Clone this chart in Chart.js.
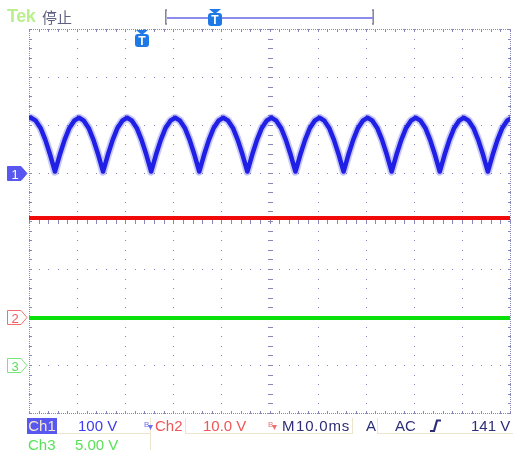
<!DOCTYPE html>
<html>
<head>
<meta charset="utf-8">
<script src="https://cdn.jsdelivr.net/npm/chart.js@4"></script>
<style>
  body { margin: 0; background: #fff; }
  #scope { position: relative; width: 513px; height: 450px; overflow: hidden; font-family: 'Liberation Sans', Arial, sans-serif; }
  #scope canvas { position: absolute; left: 0; top: 0; }
  .txt { position: absolute; font-size: 15px; line-height: 15px; white-space: nowrap; }
  .line { position: absolute; background: #ece4cc; }
  svg { position: absolute; overflow: visible; }
</style>
</head>
<body>
<div id="scope">
  <canvas id="myChart" width="513" height="450"></canvas>
</div>
<script>
// ---- channel settings ----
const msPerDiv = 10
const ch1VoltsPerDiv = 100
const ch2VoltsPerDiv = 10
const ch3VoltsPerDiv = 5
const ch1OffsetDiv = 1   // ground marker 1
const ch2OffsetDiv = -2  // ground marker 2
const ch3OffsetDiv = -3  // ground marker 3

// ---- Ch1: full wave rectified mains, 100 Hz ripple ----
const ch1TimeMs = [
  -50, -49.6, -48.6, -47.6, -46.6, -45.6,
  -44.6, -43.6, -42.6, -41.6, -40.6, -39.6, -38.6, -37.6, -36.6, -35.6,
  -34.6, -33.6, -32.6, -31.6, -30.6, -29.6, -28.6, -27.6, -26.6, -25.6,
  -24.6, -23.6, -22.6, -21.6, -20.6, -19.6, -18.6, -17.6, -16.6, -15.6,
  -14.6, -13.6, -12.6, -11.6, -10.6, -9.6, -8.6, -7.6, -6.6, -5.6,
  -4.6, -3.6, -2.6, -1.6, -0.6, 0.4, 1.4, 2.4, 3.4, 4.4,
  5.4, 6.4, 7.4, 8.4, 9.4, 10.4, 11.4, 12.4, 13.4, 14.4,
  15.4, 16.4, 17.4, 18.4, 19.4, 20.4, 21.4, 22.4, 23.4, 24.4,
  25.4, 26.4, 27.4, 28.4, 29.4, 30.4, 31.4, 32.4, 33.4, 34.4,
  35.4, 36.4, 37.4, 38.4, 39.4, 40.4, 41.4, 42.4, 43.4, 44.4,
  45.4, 46.4, 47.4, 48.4, 49.4, 50.4,
]
const ch1Volts = [
  114, 115, 109, 94, 69, 38,
  3, 38, 69, 94, 109, 115, 109, 94, 69, 38,
  3, 38, 69, 94, 109, 115, 109, 94, 69, 38,
  3, 38, 69, 94, 109, 115, 109, 94, 69, 38,
  3, 38, 69, 94, 109, 115, 109, 94, 69, 38,
  3, 38, 69, 94, 109, 115, 109, 94, 69, 38,
  3, 38, 69, 94, 109, 115, 109, 94, 69, 38,
  3, 38, 69, 94, 109, 115, 109, 94, 69, 38,
  3, 38, 69, 94, 109, 115, 109, 94, 69, 38,
  3, 38, 69, 94, 109, 115, 109, 94, 69, 38,
  3, 38, 69, 94, 109, 115,
]

// ---- Ch2 / Ch3: flat DC traces ----
const ch2TimeMs = [-50, 50]
const ch2Volts = [20.6, 20.6]
const ch3TimeMs = [-50, 50]
const ch3Volts = [4.9, 4.9]

const gridColor = 'rgb(135, 135, 185)'

const toDiv = (times, volts, perDiv, offset) =>
  times.map((t, i) => ({ x: t, y: volts[i] / perDiv + offset }))

const ch1Points = toDiv(ch1TimeMs, ch1Volts, ch1VoltsPerDiv, ch1OffsetDiv)
const ch2Points = toDiv(ch2TimeMs, ch2Volts, ch2VoltsPerDiv, ch2OffsetDiv)
const ch3Points = toDiv(ch3TimeMs, ch3Volts, ch3VoltsPerDiv, ch3OffsetDiv)

// dotted graticule, border ruler and centre-line ticks
const graticule = {
  id: 'graticule',
  beforeDatasetsDraw(chart) {
    const { ctx, chartArea: a, scales: { x, y } } = chart
    const dot = (px, py, w = 1, h = 1) => ctx.fillRect(Math.round(px), Math.round(py), w, h)
    ctx.save()
    ctx.fillStyle = gridColor

    for (let i = 1; i < 10; i++) {
      const px = x.getPixelForValue(x.min + i * msPerDiv)
      for (let j = 0; j <= 40; j++) dot(px, y.getPixelForValue(y.min + j / 5))
    }
    for (let i = 1; i < 8; i++) {
      const py = y.getPixelForValue(y.min + i)
      for (let j = 0; j <= 50; j++) dot(x.getPixelForValue(x.min + j * msPerDiv / 5), py)
    }

    // border: dense dots
    for (let px = a.left; px <= a.right; px += 2) { dot(px, a.top); dot(px, a.bottom) }
    for (let py = a.top; py <= a.bottom; py += 2) { dot(a.left, py); dot(a.right, py) }

    // minor ticks on border and centre lines
    const cx = x.getPixelForValue(0)
    const cy = y.getPixelForValue(0)
    for (let j = 0; j <= 50; j++) {
      const px = x.getPixelForValue(x.min + j * msPerDiv / 5)
      dot(px, a.top, 1, 3)
      dot(px, a.bottom - 2, 1, 3)
      dot(px, cy - 2, 1, 5)
    }
    for (let j = 0; j <= 40; j++) {
      const py = y.getPixelForValue(y.min + j / 5)
      dot(a.left, py, 3, 1)
      dot(a.right - 2, py, 3, 1)
      dot(cx - 2, py, 5, 1)
    }
    ctx.restore()
  },
}

const myScope = new Chart(document.getElementById('myChart'), {
  type: 'line',
  data: {
    datasets: [
      { label: 'Ch1 glow', data: ch1Points, borderColor: 'rgba(70, 70, 240, 0.3)', borderWidth: 8 },
      { label: 'Ch1', data: ch1Points, borderColor: 'rgb(15, 15, 225)', borderWidth: 4.5 },
      { label: 'Ch2', data: ch2Points, borderColor: 'rgb(240, 10, 10)', borderWidth: 4 },
      { label: 'Ch3', data: ch3Points, borderColor: 'rgb(10, 225, 10)', borderWidth: 4 },
    ],
  },
  options: {
    responsive: false,
    animation: false,
    layout: { padding: { left: 29, top: 29, right: 3, bottom: 37 } },
    elements: { point: { radius: 0 }, line: { tension: 0, borderJoinStyle: 'round' } },
    scales: {
      x: { type: 'linear', display: false, min: -5 * msPerDiv, max: 5 * msPerDiv },
      y: { type: 'linear', display: false, min: -4, max: 4 },
    },
    plugins: { legend: { display: false }, tooltip: { enabled: false } },
  },
  plugins: [graticule],
})

// ========================= //
// readouts and markers

const scope = document.getElementById('scope')

const create = (cls, text, style) => {
  const el = document.createElement('div')
  el.className = cls
  if (text) el.textContent = text
  Object.assign(el.style, style)
  scope.append(el)
  return el
}

const svg = (x, y, markup) => {
  scope.insertAdjacentHTML('beforeend',
    `<svg style="left:${x}px;top:${y}px" width="30" height="30">${markup}</svg>`)
}

// readout box lines
create('line', '', { left: '57px', top: '433px', width: '93px', height: '1px' })
create('line', '', { left: '150px', top: '418px', width: '1px', height: '32px' })
create('line', '', { left: '185px', top: '418px', width: '1px', height: '16px' })
create('line', '', { left: '185px', top: '433px', width: '97px', height: '1px' })
create('line', '', { left: '282px', top: '433px', width: '70px', height: '1px' })
create('line', '', { left: '352px', top: '418px', width: '1px', height: '16px' })
create('line', '', { left: '377px', top: '418px', width: '1px', height: '16px' })
create('line', '', { left: '377px', top: '433px', width: '136px', height: '1px' })

create('txt', 'Ch1', { left: '27px', top: '418px', width: '30px', height: '16px', lineHeight: '16px',
  background: 'rgb(88, 88, 240)', color: 'rgb(245, 232, 205)', textAlign: 'center' })
create('txt', '100 V', { left: '78px', top: '418px', color: 'rgb(60, 60, 235)' })
create('txt', 'Ch2', { left: '155px', top: '418px', color: 'rgb(240, 85, 85)' })
create('txt', '10.0 V', { left: '203px', top: '418px', color: 'rgb(240, 85, 85)' })
create('txt', 'M', { left: '282px', top: '418px', color: 'rgb(45, 45, 120)' })
create('txt', '10.0ms', { left: '296px', top: '418px', color: 'rgb(45, 45, 120)', letterSpacing: '0.8px' })
create('txt', 'A', { left: '366px', top: '418px', color: 'rgb(45, 45, 120)' })
create('txt', 'AC', { left: '395px', top: '418px', color: 'rgb(45, 45, 120)' })
create('txt', '141 V', { left: '471px', top: '418px', color: 'rgb(45, 45, 120)' })
create('txt', 'Ch3', { left: '28px', top: '437px', color: 'rgb(90, 225, 90)' })
create('txt', '5.00 V', { left: '75px', top: '437px', color: 'rgb(90, 225, 90)' })

create('txt', 'Tek', { left: '7px', top: '7px', fontSize: '18px', lineHeight: '18px', fontWeight: 'bold',
  color: 'rgb(185, 240, 140)', letterSpacing: '-0.5px' })
create('txt', '停止', { left: '42px', top: '9px', fontFamily: "'Noto Sans CJK SC', sans-serif",
  color: 'rgb(95, 95, 130)' })

// bandwidth limit icons
svg(144, 419, `<text x="0" y="8" font-size="8" font-family="Liberation Sans" fill="rgb(110,110,240)">B</text>
  <path d="M4 6 L9 6 L6.5 11 Z" fill="rgb(110,110,240)"/>`)
svg(268, 419, `<text x="0" y="8" font-size="8" font-family="Liberation Sans" fill="rgb(240,110,110)">B</text>
  <path d="M4 6 L9 6 L6.5 11 Z" fill="rgb(240,110,110)"/>`)

// trigger slope symbol
svg(429, 419, `<path d="M1 12 L5 12 L8 1.5 L12 1.5" fill="none" stroke="rgb(45,45,120)" stroke-width="2.2"/>`)

// horizontal position bar
svg(165, 10, `<path d="M2 0 L0.8 0 L0.8 14 L2 14" fill="none" stroke="rgb(130,130,150)" stroke-width="1.5"/>`)
svg(372, 10, `<path d="M0 0 L1.2 0 L1.2 14 L0 14" fill="none" stroke="rgb(130,130,150)" stroke-width="1.5"/>`)
create('line', '', { left: '167px', top: '17px', width: '206px', height: '2px', background: 'rgb(140, 140, 235)' })

const triggerMark = (x, y) => svg(x, y, `<path d="M1 0 L13 0 L7 5 Z" fill="rgb(30,120,230)"/>
  <rect x="0" y="4" width="14" height="13" rx="3" fill="rgb(30,120,230)"/>
  <text x="7" y="15" text-anchor="middle" font-size="12" font-weight="bold" font-family="Liberation Sans" fill="#fff">T</text>`)
triggerMark(208, 9)
triggerMark(135, 30)

// channel ground markers
const groundMark = (y, n, fill, stroke, textColor) => svg(7, y, `
  <path d="M0.5 0.5 L14 0.5 L20 7.5 L14 14.5 L0.5 14.5 Z" fill="${fill}" stroke="${stroke}" stroke-width="1"/>
  <text x="8" y="12.5" text-anchor="middle" font-size="13" font-family="Liberation Sans" fill="${textColor}">${n}</text>`)
groundMark(166, '1', 'rgb(88,88,240)', 'rgb(88,88,240)', '#fff')
groundMark(310, '2', '#fff', 'rgb(240,110,110)', 'rgb(240,90,90)')
groundMark(358, '3', '#fff', 'rgb(120,230,120)', 'rgb(90,220,90)')
</script>
</body>
</html>
